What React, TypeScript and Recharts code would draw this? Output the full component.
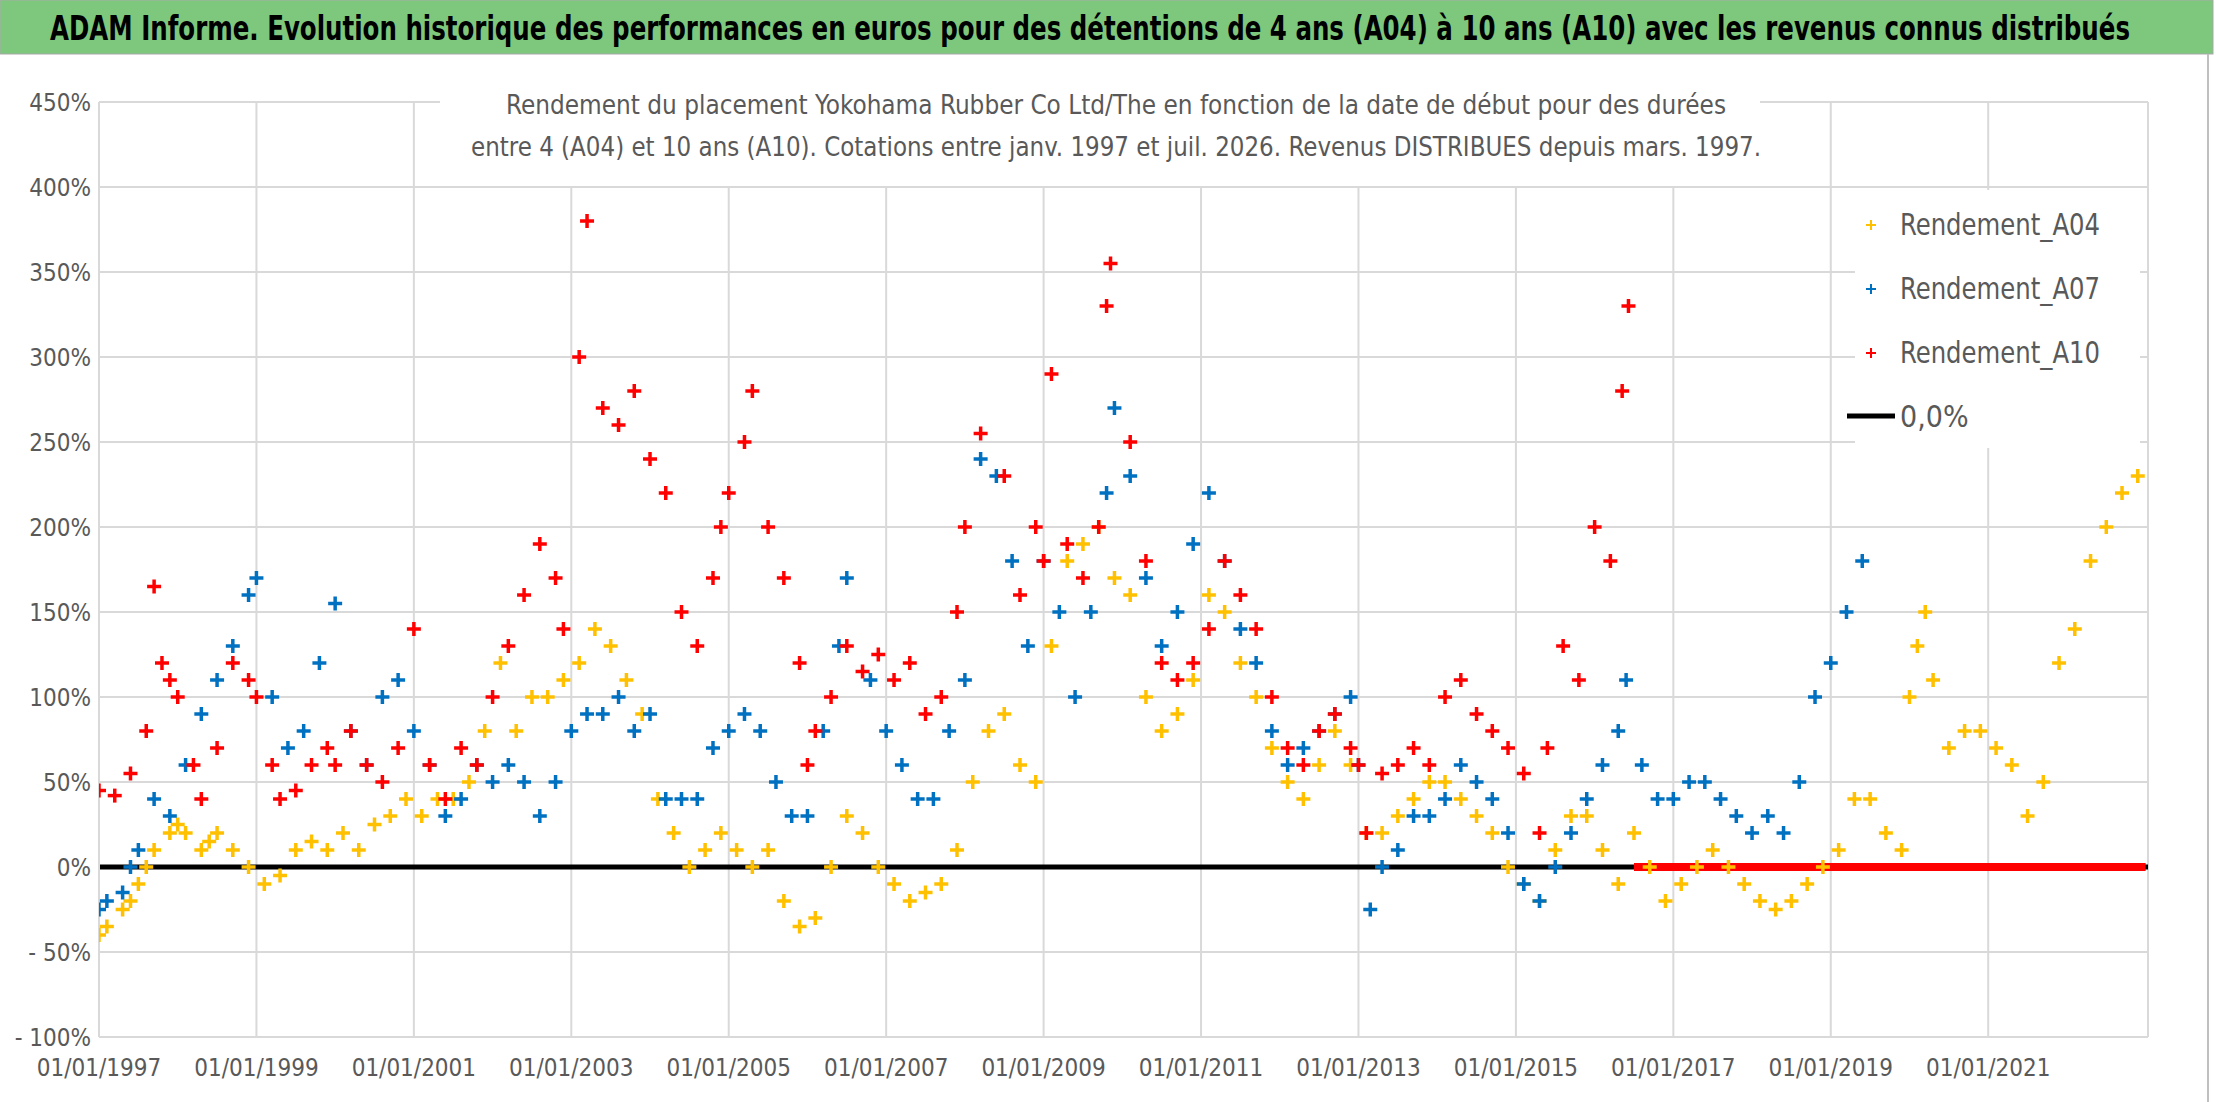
import { ScatterChart, Scatter, XAxis, YAxis, CartesianGrid, ReferenceLine } from "recharts";

const yTicks = [-100, -50, 0, 50, 100, 150, 200, 250, 300, 350, 400, 450];
const xTicks = [1997, 1999, 2001, 2003, 2005, 2007, 2009, 2011, 2013, 2015, 2017, 2019, 2021];

const title = "ADAM Informe. Evolution historique des performances en euros pour des détentions de 4 ans (A04) à 10 ans (A10) avec les revenus connus distribués";
const subtitle1 = "Rendement du placement Yokohama Rubber Co Ltd/The en fonction de la date de début pour des durées";
const subtitle2 = "entre 4 (A04) et 10 ans (A10). Cotations entre janv. 1997 et juil. 2026. Revenus DISTRIBUES depuis mars. 1997.";

const a04: [number, number][] = [
  [1997.0,-40],[1997.1,-35],[1997.3,-25],[1997.4,-20],[1997.5,-10],[1997.6,0],[1997.7,10],[1997.9,20],[1998.0,25],[1998.1,20],[1998.3,10],[1998.4,15],
  [1998.5,20],[1998.7,10],[1998.9,0],[1999.1,-10],[1999.3,-5],[1999.5,10],[1999.7,15],[1999.9,10],[2000.1,20],[2000.3,10],
  [2000.5,25],[2000.7,30],[2000.9,40],[2001.1,30],[2001.3,40],[2001.5,40],[2001.7,50],[2001.9,80],[2002.1,120],[2002.3,80],
  [2002.5,100],[2002.7,100],[2002.9,110],[2003.1,120],[2003.3,140],[2003.5,130],[2003.7,110],[2003.9,90],[2004.1,40],[2004.3,20],
  [2004.5,0],[2004.7,10],[2004.9,20],[2005.1,10],[2005.3,0],[2005.5,10],[2005.7,-20],[2005.9,-35],[2006.1,-30],[2006.3,0],
  [2006.5,30],[2006.7,20],[2006.9,0],[2007.1,-10],[2007.3,-20],[2007.5,-15],[2007.7,-10],[2007.9,10],[2008.1,50],[2008.3,80],
  [2008.5,90],[2008.7,60],[2008.9,50],[2009.1,130],[2009.3,180],[2009.5,190],[2009.7,200],[2009.9,170],[2010.1,160],[2010.3,100],
  [2010.5,80],[2010.7,90],[2010.9,110],[2011.1,160],[2011.3,150],[2011.5,120],[2011.7,100],[2011.9,70],[2012.1,50],[2012.3,40],
  [2012.5,60],[2012.7,80],[2012.9,60],[2013.1,20],[2013.3,20],[2013.5,30],[2013.7,40],[2013.9,50],[2014.1,50],[2014.3,40],
  [2014.5,30],[2014.7,20],[2014.9,0],[2015.1,-10],[2015.3,-20],[2015.5,10],[2015.7,30],[2015.9,30],[2016.1,10],[2016.3,-10],
  [2016.5,20],[2016.7,0],[2016.9,-20],[2017.1,-10],[2017.3,0],[2017.5,10],[2017.7,0],[2017.9,-10],[2018.1,-20],[2018.3,-25],
  [2018.5,-20],[2018.7,-10],[2018.9,0],[2019.1,10],[2019.3,40],[2019.5,40],[2019.7,20],[2019.9,10],[2020.0,100],[2020.1,130],[2020.2,150],[2020.3,110],
  [2020.5,70],[2020.7,80],[2020.9,80],[2021.1,70],[2021.3,60],[2021.5,30],[2021.7,50],[2021.9,120],[2022.1,140],[2022.3,180],
  [2022.5,200],[2022.7,220],[2022.9,230],
];

const a07: [number, number][] = [
  [1997.0,-25],[1997.1,-20],[1997.3,-15],[1997.4,0],[1997.5,10],[1997.7,40],[1997.9,30],[1998.1,60],[1998.3,90],[1998.5,110],[1998.7,130],
  [1998.9,160],[1999.0,170],[1999.2,100],[1999.4,70],[1999.6,80],[1999.8,120],[2000.0,155],[2000.2,80],[2000.4,60],
  [2000.6,100],[2000.8,110],[2001.0,80],[2001.2,60],[2001.4,30],[2001.6,40],[2001.8,60],[2002.0,50],[2002.2,60],[2002.4,50],
  [2002.6,30],[2002.8,50],[2003.0,80],[2003.2,90],[2003.4,90],[2003.6,100],[2003.8,80],[2004.0,90],[2004.2,40],[2004.4,40],
  [2004.6,40],[2004.8,70],[2005.0,80],[2005.2,90],[2005.4,80],[2005.6,50],[2005.8,30],[2006.0,30],[2006.2,80],[2006.4,130],
  [2006.5,170],[2006.8,110],[2007.0,80],[2007.2,60],[2007.4,40],[2007.6,40],[2007.8,80],[2008.0,110],[2008.2,240],[2008.4,230],
  [2008.6,180],[2008.8,130],[2009.0,180],[2009.2,150],[2009.4,100],[2009.6,150],[2009.8,220],[2009.9,270],[2010.1,230],[2010.3,170],
  [2010.5,130],[2010.7,150],[2010.9,190],[2011.1,220],[2011.3,180],[2011.5,140],[2011.7,120],[2011.9,80],[2012.1,60],[2012.3,70],
  [2012.5,80],[2012.7,90],[2012.9,100],[2013.0,60],[2013.15,-25],[2013.3,0],[2013.5,10],[2013.7,30],[2013.9,30],[2014.1,40],
  [2014.3,60],[2014.5,50],[2014.7,40],[2014.9,20],[2015.1,-10],[2015.3,-20],[2015.5,0],[2015.7,20],[2015.9,40],[2016.1,60],
  [2016.3,80],[2016.4,110],[2016.6,60],[2016.8,40],[2017.0,40],[2017.2,50],[2017.4,50],[2017.6,40],[2017.8,30],[2018.0,20],
  [2018.2,30],[2018.4,20],[2018.6,50],[2018.8,100],[2019.0,120],[2019.2,150],[2019.4,180],
];

const a10: [number, number][] = [
  [1997.0,45],[1997.2,42],[1997.4,55],[1997.6,80],[1997.7,165],[1997.8,120],[1997.9,110],[1998.0,100],[1998.2,60],[1998.3,40],[1998.5,70],
  [1998.7,120],[1998.9,110],[1999.0,100],[1999.2,60],[1999.3,40],[1999.5,45],[1999.7,60],[1999.9,70],[2000.0,60],[2000.2,80],
  [2000.4,60],[2000.6,50],[2000.8,70],[2001.0,140],[2001.2,60],[2001.4,40],[2001.6,70],[2001.8,60],[2002.0,100],[2002.2,130],
  [2002.4,160],[2002.6,190],[2002.8,170],[2002.9,140],[2003.1,300],[2003.2,380],[2003.25,410],[2003.4,270],[2003.6,260],[2003.8,280],
  [2004.0,240],[2004.2,220],[2004.4,150],[2004.6,130],[2004.8,170],[2004.9,200],[2005.0,220],[2005.2,250],[2005.3,280],[2005.5,200],
  [2005.7,170],[2005.9,120],[2006.0,60],[2006.1,80],[2006.3,100],[2006.5,130],[2006.7,115],[2006.9,125],[2007.1,110],[2007.3,120],
  [2007.5,90],[2007.7,100],[2007.9,150],[2008.0,200],[2008.2,255],[2008.5,230],[2008.7,160],[2008.9,200],[2009.0,180],[2009.1,290],
  [2009.3,190],[2009.5,170],[2009.7,200],[2009.8,330],[2009.85,355],[2010.1,250],[2010.3,180],[2010.5,120],[2010.7,110],[2010.9,120],
  [2011.1,140],[2011.3,180],[2011.5,160],[2011.7,140],[2011.9,100],[2012.1,70],[2012.3,60],[2012.5,80],[2012.7,90],[2012.9,70],
  [2013.0,60],[2013.1,20],[2013.3,55],[2013.5,60],[2013.7,70],[2013.9,60],[2014.1,100],[2014.3,110],[2014.5,90],[2014.7,80],
  [2014.9,70],[2015.1,55],[2015.3,20],[2015.4,70],[2015.6,130],[2015.8,110],[2016.0,200],[2016.2,180],[2016.35,280],[2016.43,330],
];

const toPoints = (arr: [number, number][]) => arr.map(([x, y]) => ({ x, y }));

const Cross = (color: string) => (props: any) => {
  const { cx, cy } = props;
  if (cx == null || cy == null) return null;
  return (
    <g stroke={color} strokeWidth={3.5}>
      <line x1={cx - 7} y1={cy} x2={cx + 7} y2={cy} />
      <line x1={cx} y1={cy - 7} x2={cx} y2={cy + 7} />
    </g>
  );
};

const font = "'Liberation Sans Narrow', 'DejaVu Sans Condensed', 'Noto Sans', sans-serif";
const gray = "#595959";

const yFmt = (v: number) => (v < 0 ? `- ${-v}%` : `${v}%`);
const xFmt = (v: number) => `01/01/${v}`;

const legendItems = [
  { label: "Rendement_A04", color: "#FFC000" },
  { label: "Rendement_A07", color: "#0070C0" },
  { label: "Rendement_A10", color: "#FF0000" },
];

export default function App() {
  return (
    <div style={{ position: "absolute", left: 0, top: 0, width: 2216, height: 1102, background: "#fff", fontFamily: font }}>
      <ScatterChart width={2150} height={1102} margin={{ top: 102, right: 2, left: 19, bottom: 0 }}>
        <CartesianGrid stroke="#D9D9D9" strokeWidth={2} />
        <XAxis type="number" dataKey="x" domain={[1997, 2023.03]} ticks={xTicks} tickFormatter={xFmt}
          height={65} axisLine={{ stroke: "#D9D9D9", strokeWidth: 2 }} tickLine={false}
          tick={{ fill: gray, fontSize: 24, fontFamily: font, dy: 14 }} allowDataOverflow />
        <YAxis type="number" dataKey="y" domain={[-100, 450]} ticks={yTicks} tickFormatter={yFmt}
          width={80} axisLine={{ stroke: "#D9D9D9", strokeWidth: 2 }} tickLine={false}
          tick={{ fill: gray, fontSize: 24, fontFamily: font }} />
        <ReferenceLine y={0} stroke="#000" strokeWidth={5} />
        <ReferenceLine segment={[{ x: 2016.5, y: 0 }, { x: 2023.0, y: 0 }]} stroke="#FF0000" strokeWidth={8} />
        <Scatter data={toPoints(a04)} shape={Cross("#FFC000")} isAnimationActive={false} />
        <Scatter data={toPoints(a07)} shape={Cross("#0070C0")} isAnimationActive={false} />
        <Scatter data={toPoints(a10)} shape={Cross("#FF0000")} isAnimationActive={false} />
      </ScatterChart>

      <svg width={2216} height={1102} style={{ position: "absolute", left: 0, top: 0, pointerEvents: "none" }}>
        <rect x={0} y={0} width={2213} height={54} fill="#7DC87D" stroke="#A9A9A9" strokeWidth={1} />
        <text x={1090} y={40} textAnchor="middle" fontSize={33} fontWeight="bold" fill="#000" fontFamily={font}
          textLength={2080} lengthAdjust="spacingAndGlyphs">{title}</text>
        <line x1={2208} y1={54} x2={2208} y2={1102} stroke="#BFBFBF" strokeWidth={2} />
        <rect x={440} y={86} width={1320} height={100} fill="#fff" />
        <text x={1116} y={114} textAnchor="middle" fontSize={26} fill={gray} fontFamily={font}
          textLength={1220} lengthAdjust="spacingAndGlyphs">{subtitle1}</text>
        <text x={1116} y={156} textAnchor="middle" fontSize={26} fill={gray} fontFamily={font}
          textLength={1290} lengthAdjust="spacingAndGlyphs">{subtitle2}</text>
        <rect x={1855} y={190} width={285} height={258} fill="#fff" />
        {legendItems.map((it, i) => (
          <g key={it.label}>
            <g stroke={it.color} strokeWidth={2}>
              <line x1={1866} y1={225 + i * 64} x2={1876} y2={225 + i * 64} />
              <line x1={1871} y1={220 + i * 64} x2={1871} y2={230 + i * 64} />
            </g>
            <text x={1900} y={235 + i * 64} fontSize={30} fill={gray} fontFamily={font}
              textLength={200} lengthAdjust="spacingAndGlyphs">{it.label}</text>
          </g>
        ))}
        <line x1={1847} y1={416} x2={1895} y2={416} stroke="#000" strokeWidth={5} />
        <text x={1900} y={427} fontSize={30} fill={gray} fontFamily={font}>0,0%</text>
      </svg>
    </div>
  );
}
